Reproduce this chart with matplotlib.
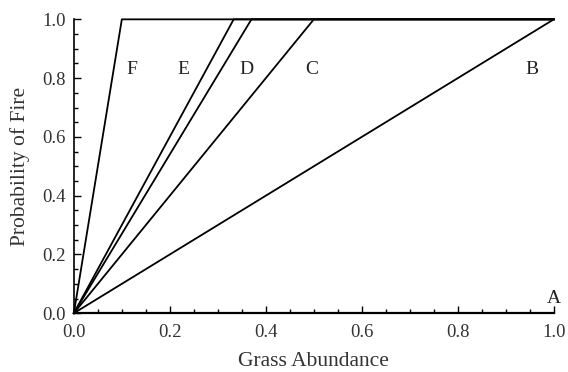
import numpy as np
import matplotlib
matplotlib.use("Agg")
import matplotlib.pyplot as plt
from matplotlib.ticker import MultipleLocator

# grass abundance at which each curve saturates (probability reaches 1)
curve_names = ['B', 'C', 'D', 'E', 'F']
saturation_x = [1.0, 0.5, 0.37, 0.333, 0.1]

# label positions (x, y) in data units
label_names = ['F', 'E', 'D', 'C', 'B', 'A']
label_x = [0.12, 0.228, 0.36, 0.495, 0.955, 1.0]
label_y = [0.83, 0.83, 0.83, 0.83, 0.83, 0.05]

plt.rcParams['font.family'] = ['Liberation Serif', 'DejaVu Serif']
plt.rcParams['font.size'] = 13.5

fig = plt.figure(figsize=(5.68, 3.72), dpi=100)
ax = fig.add_axes([0.13, 0.158, 0.845, 0.79])

# curve A: no fire at all
ax.plot([0, 1], [0, 0], color='black', lw=1.3, clip_on=False)
for xs in saturation_x:
    ax.plot([0, xs, 1], [0, 1, 1], color='black', lw=1.3, clip_on=False)

for name, lx, ly in zip(label_names, label_x, label_y):
    ax.text(lx, ly, name, ha='center', va='center', fontsize=14, color='#222222')

ax.set_xlim(0, 1)
ax.set_ylim(0, 1)
ax.xaxis.set_major_locator(MultipleLocator(0.2))
ax.xaxis.set_minor_locator(MultipleLocator(0.05))
ax.yaxis.set_major_locator(MultipleLocator(0.2))
ax.yaxis.set_minor_locator(MultipleLocator(0.05))
ax.xaxis.set_major_formatter(plt.FormatStrFormatter('%.1f'))
ax.yaxis.set_major_formatter(plt.FormatStrFormatter('%.1f'))
ax.tick_params(which='both', direction='in', width=1, labelsize=13.5,
               labelcolor='#333333')
ax.tick_params(which='major', length=5)
ax.tick_params(which='minor', length=3)
ax.tick_params(axis='x', which='major', pad=8)
ax.tick_params(axis='y', which='major', pad=6)
ax.spines['top'].set_visible(False)
ax.spines['right'].set_visible(False)
ax.spines['left'].set_linewidth(1.2)
ax.spines['bottom'].set_linewidth(1.6)

ax.set_xlabel('Grass Abundance', fontsize=15.5, labelpad=8, color='#333333')
ax.set_ylabel('Probability of Fire', fontsize=15.5, labelpad=9, color='#333333')

fig.savefig('out.png', dpi=100)
